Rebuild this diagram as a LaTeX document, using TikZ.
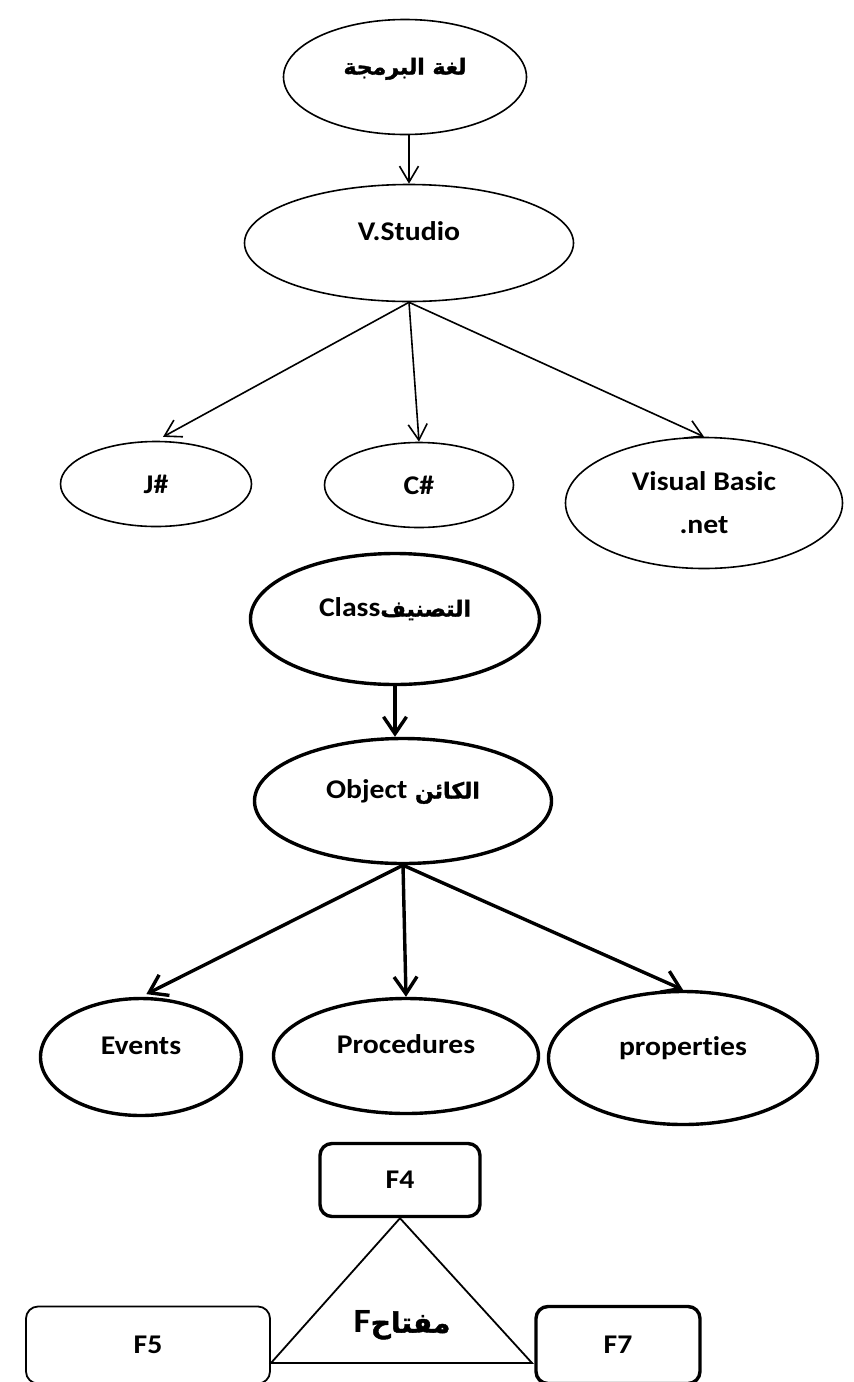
\documentclass[tikz,border=0pt]{standalone}
\usepackage{fontspec}
\setmainfont[FakeStretch=1.1, Ligatures=NoCommon]{Carlito}
\newfontfamily\arabicfont[Script=Arabic, BoldFeatures={FakeBold=1.5}]{DejaVu Sans}
\TeXXeTstate=1
\usetikzlibrary{shapes.geometric,arrows.meta}

\begin{document}
\begin{tikzpicture}[x=1pt,y=-1pt,
        every node/.style={font=\fontsize{27}{32}\selectfont\bfseries},
        thinell/.style={draw, ellipse, line width=1.6pt, inner sep=0pt},
        thickell/.style={draw, ellipse, line width=3.4pt, inner sep=0pt},
        lifted/.style={text height=15pt, text depth=20pt},
        keybox/.style={draw, rounded corners=12pt, inner sep=0pt},
        thinarr/.style={line width=1.6pt, -{Straight Barb[length=16pt,width=19pt]}},
        thickarr/.style={line width=3.4pt, -{Straight Barb[length=17pt,width=23pt]}}]
        \useasboundingbox (0,0) rectangle (854,1382);

        \node[thinell, lifted, minimum width=243pt, minimum height=115pt] (T1) at (405,77)
            {\arabicfont\fontsize{22}{26}\selectfont\beginR لغة البرمجة\endR};
        \node[thinell, lifted, minimum width=329pt, minimum height=117pt] (V1) at (409,243) {V.Studio};

        \node[thinell, minimum width=191pt, minimum height=85pt] (C1) at (156,484) {J\#};
        \node[thinell, minimum width=189pt, minimum height=85pt] (C2) at (419,485) {C\#};
        \node[thinell, align=center, minimum width=277pt, minimum height=131pt,
            font=\fontsize{27}{43}\selectfont\bfseries] (C3) at (704,503) {Visual Basic\\.net};

        \draw[thinarr] (V1.north |- T1.south) -- (V1.north);
        \draw[thinarr, shorten >=8pt] (V1.south) -- (C1.north);
        \draw[thinarr] (V1.south) -- (C2.north);
        \draw[thinarr] (V1.south) -- (C3.north);

        %%%
        \node[thickell, lifted, minimum width=289pt, minimum height=131pt] (K1) at (395,619)
            {\arabicfont\fontsize{22}{26}\selectfont\beginR التصنيف\beginL\rmfamily\fontsize{27}{32}\selectfont Class\endL\endR};
        \node[thickell, lifted, minimum width=297pt, minimum height=125pt] (O1) at (403,801)
            {\arabicfont\fontsize{22}{26}\selectfont\beginR الكائن \beginL\rmfamily\fontsize{27}{32}\selectfont Object\endL\endR};

        \node[thickell, lifted, minimum width=201pt, minimum height=117pt] (P1) at (141,1057) {Events};
        \node[thickell, lifted, minimum width=265pt, minimum height=115pt] (P2) at (406,1056) {Procedures};
        \node[thickell, lifted, minimum width=269pt, minimum height=133pt] (P3) at (683,1058) {properties};

        \draw[thickarr] (K1.south) -- (K1.south |- O1.north);
        \draw[thickarr, shorten >=6pt] (O1.south) -- (P1.north);
        \draw[thickarr] (O1.south) -- (P2.north);
        \draw[thickarr] (O1.south) -- (P3.north);

        %%%
        \node[keybox, line width=3.4pt, minimum width=160pt, minimum height=73pt] (F4) at (400,1180) {F4};
        \node[keybox, line width=1.8pt, minimum width=244pt, minimum height=77pt] (F5) at (148,1345) {F5};
        \node[keybox, line width=3.4pt, minimum width=164pt, minimum height=77pt] (F7) at (618,1345) {F7};

        \coordinate (Q1) at (271,1363);
        \coordinate (Q2) at (532,1363);
        \draw[line width=1.8pt] (F4.south) -- (Q1) -- (Q2) -- cycle;

        \node (M1) at (402,1325)
            {\arabicfont\fontsize{28}{32}\selectfont\beginR مفتاح\beginL\rmfamily\fontsize{34}{40}\selectfont F\endL\endR};
    \end{tikzpicture}
\end{document}
